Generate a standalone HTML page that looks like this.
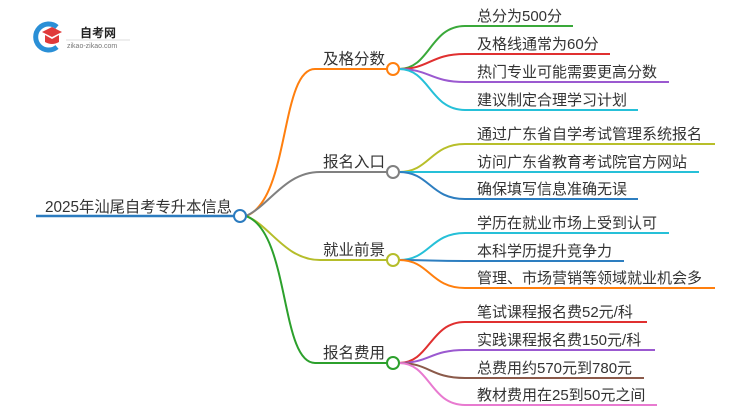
<!DOCTYPE html>
<html><head><meta charset="utf-8"><style>
body{margin:0;background:#fff;width:750px;height:410px;overflow:hidden}
svg text{font-family:"Liberation Sans","Noto Sans CJK SC",sans-serif;fill:#333}
</style></head><body>
<svg width="750" height="410" viewBox="0 0 750 410" xmlns="http://www.w3.org/2000/svg" fill="none">
<!-- logo -->
<path d="M57 27 A13 13 0 1 0 57 47" stroke="#2a8fd6" stroke-width="5"/>
<path d="M42 32 L52 27 L62 32 L52 37 Z" fill="#e03a3a"/>
<path d="M45 35 L45 42 Q52 46 59 42 L59 35 L52 39 Z" fill="#e03a3a"/>
<text x="80" y="37" font-size="12" font-weight="bold" style="fill:#222">自考网</text>
<line x1="66" y1="40" x2="130" y2="40" stroke="#ddd" stroke-width="1"/>
<text x="67" y="48" font-size="7" style="fill:#777">zikao-zikao.com</text>

<!-- root -->
<line x1="36" y1="216" x2="234" y2="216" stroke="#2b7bbf" stroke-width="2.5"/>
<text x="45" y="212" font-size="15.3">2025年汕尾自考专升本信息</text>

<!-- main branches -->
<path d="M246 216 C290 200,280 69,315 69 L387 69" stroke="#ff7f0e" stroke-width="2"/>
<path d="M246 216 C270 205,285 172,320 172 L387 172" stroke="#808080" stroke-width="2"/>
<path d="M246 216 C270 225,285 260,320 260 L387 260" stroke="#b5bd2a" stroke-width="2"/>
<path d="M246 216 C290 232,280 363,315 363 L387 363" stroke="#2ca02c" stroke-width="2"/>
<g font-size="15.5">
<text x="323" y="64">及格分数</text>
<text x="323" y="167">报名入口</text>
<text x="323" y="255">就业前景</text>
<text x="323" y="358">报名费用</text>
</g>

<!-- leaves -->
<g stroke-width="2">
<path d="M399 69 C430 69,430 26,465 26 L573 26" stroke="#3aa93a"/>
<path d="M399 69 C430 69,430 54,465 54 L610 54" stroke="#e03030"/>
<path d="M399 69 C430 69,430 82,465 82 L669 82" stroke="#9b59d0"/>
<path d="M399 69 C430 69,430 110,465 110 L638 110" stroke="#26c0d8"/>
<path d="M399 172 C430 172,430 144,465 144 L715 144" stroke="#b8bf2a"/>
<path d="M399 172 L699 172" stroke="#26c0d8"/>
<path d="M399 172 C430 172,430 199,465 199 L638 199" stroke="#2d7ec0"/>
<path d="M399 260 C430 260,430 233,465 233 L669 233" stroke="#26c0d8"/>
<path d="M399 260 C430 260,430 261,465 261 L624 261" stroke="#2d7ec0"/>
<path d="M399 260 C430 260,430 288,465 288 L715 288" stroke="#ff7f0e"/>
<path d="M399 363 C430 363,430 322,465 322 L647 322" stroke="#e03030"/>
<path d="M399 363 C430 363,430 350,465 350 L655 350" stroke="#9b59d0"/>
<path d="M399 363 C430 363,430 378,465 378 L644 378" stroke="#8b5a4a"/>
<path d="M399 363 C430 363,430 405,465 405 L657 405" stroke="#e87ad0"/>
</g>
<g font-size="15">
<text x="477" y="21">总分为500分</text>
<text x="477" y="49">及格线通常为60分</text>
<text x="477" y="77">热门专业可能需要更高分数</text>
<text x="477" y="105">建议制定合理学习计划</text>
<text x="477" y="139">通过广东省自学考试管理系统报名</text>
<text x="477" y="167">访问广东省教育考试院官方网站</text>
<text x="477" y="194">确保填写信息准确无误</text>
<text x="477" y="228">学历在就业市场上受到认可</text>
<text x="477" y="256">本科学历提升竞争力</text>
<text x="477" y="283">管理、市场营销等领域就业机会多</text>
<text x="477" y="317">笔试课程报名费52元/科</text>
<text x="477" y="345">实践课程报名费150元/科</text>
<text x="477" y="373">总费用约570元到780元</text>
<text x="477" y="400">教材费用在25到50元之间</text>
</g>

<!-- circles -->
<circle cx="240" cy="216" r="6" fill="#fff" stroke="#2b7bbf" stroke-width="2"/>
<circle cx="393" cy="69" r="6" fill="#fff" stroke="#ff7f0e" stroke-width="2"/>
<circle cx="393" cy="172" r="6" fill="#fff" stroke="#808080" stroke-width="2"/>
<circle cx="393" cy="260" r="6" fill="#fff" stroke="#b5bd2a" stroke-width="2"/>
<circle cx="393" cy="363" r="6" fill="#fff" stroke="#2ca02c" stroke-width="2"/>
</svg>
</body></html>
